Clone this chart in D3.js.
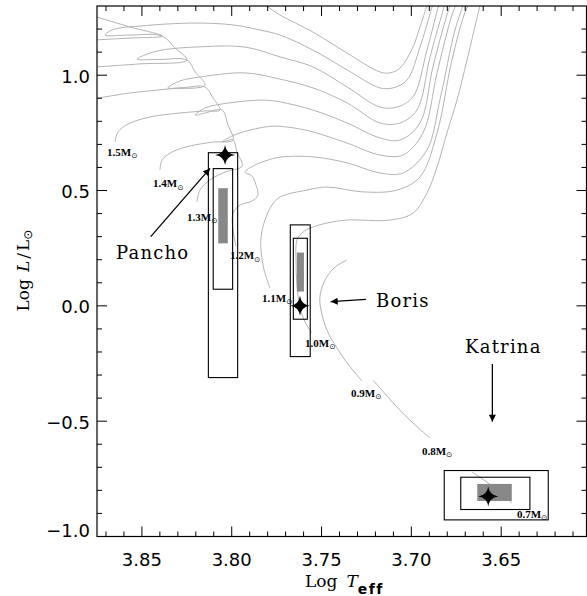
<!DOCTYPE html>
<html>
<head>
<meta charset="utf-8">
<script src="https://cdn.jsdelivr.net/npm/d3@7/dist/d3.min.js"></script>
<style>
  body { margin: 0; background: #fff; }
  svg { display: block; }
</style>
</head>
<body>
<svg id="hr" width="587" height="596"></svg>
<script>
// evolutionary tracks as [log Teff, log L/Lsun]
const track18 = [[3.8817,1.148],[3.8750,1.153],[3.8566,1.161],[3.8388,1.170],[3.8566,1.209],[3.8750,1.252],[3.8845,1.274],[3.8789,1.378],[3.8399,1.391],[3.7954,1.361],[3.7815,1.304],[3.7731,1.261],[3.7548,1.187],[3.7358,1.096],[3.7175,1.014],[3.7119,1.010],[3.7063,1.031],[3.6991,1.122],[3.6952,1.209],[3.6907,1.317]];
const track17 = [[3.8817,1.031],[3.8750,1.036],[3.8511,1.049],[3.8249,1.066],[3.8316,1.118],[3.8388,1.170],[3.8566,1.174],[3.8705,1.174],[3.8678,1.192],[3.8622,1.205],[3.8511,1.213],[3.8360,1.222],[3.8177,1.226],[3.7993,1.218],[3.7843,1.196],[3.7731,1.174],[3.7548,1.109],[3.7358,1.023],[3.7175,0.945],[3.7102,0.945],[3.7024,0.979],[3.6952,1.122],[3.6874,1.326]];
const track16 = [[3.8817,0.897],[3.8750,0.901],[3.8566,0.923],[3.8355,0.940],[3.8149,0.957],[3.8204,1.014],[3.8249,1.066],[3.8399,1.068],[3.8527,1.070],[3.8483,1.088],[3.8388,1.109],[3.8204,1.122],[3.7926,1.122],[3.7731,1.079],[3.7548,1.036],[3.7358,0.949],[3.7175,0.862],[3.7080,0.862],[3.6991,0.906],[3.6913,1.109],[3.6841,1.326]];
const track15 = [[3.8650,0.710],[3.8633,0.754],[3.8577,0.788],[3.8455,0.819],[3.8288,0.836],[3.8149,0.845],[3.8065,0.849],[3.8104,0.901],[3.8149,0.949],[3.8260,0.947],[3.8355,0.945],[3.8288,0.975],[3.8177,0.992],[3.7926,1.010],[3.7731,0.983],[3.7548,0.945],[3.7358,0.880],[3.7175,0.793],[3.7063,0.793],[3.6969,0.849],[3.6896,1.079],[3.6807,1.326]];
const track14 = [[3.8399,0.589],[3.8388,0.632],[3.8332,0.667],[3.8232,0.693],[3.8104,0.710],[3.7993,0.719],[3.8021,0.784],[3.8054,0.849],[3.8149,0.836],[3.8204,0.827],[3.8149,0.858],[3.8021,0.879],[3.7831,0.892],[3.7731,0.884],[3.7548,0.849],[3.7358,0.793],[3.7175,0.728],[3.7063,0.719],[3.6952,0.793],[3.6880,1.036],[3.6802,1.261],[3.6774,1.326]];
const track13 = [[3.8193,0.450],[3.8177,0.502],[3.8121,0.546],[3.8037,0.580],[3.7943,0.606],[3.7971,0.667],[3.7993,0.719],[3.8054,0.710],[3.7999,0.736],[3.7898,0.762],[3.7770,0.779],[3.7653,0.771],[3.7548,0.754],[3.7358,0.706],[3.7175,0.654],[3.7047,0.654],[3.6935,0.750],[3.6857,1.010],[3.6774,1.261],[3.6740,1.326]];
const track12 = [[3.7976,0.259],[3.7993,0.329],[3.7993,0.402],[3.7954,0.437],[3.7887,0.454],[3.7854,0.480],[3.7865,0.524],[3.7887,0.563],[3.7926,0.580],[3.7870,0.611],[3.7798,0.632],[3.7731,0.645],[3.7548,0.646],[3.7358,0.620],[3.7175,0.576],[3.7047,0.576],[3.6913,0.676],[3.6841,0.893],[3.6757,1.196],[3.6701,1.326]];
const track11 = [[3.7787,0.077],[3.7820,0.155],[3.7837,0.242],[3.7837,0.298],[3.7815,0.372],[3.7776,0.437],[3.7731,0.472],[3.7581,0.502],[3.7470,0.515],[3.7269,0.494],[3.7080,0.502],[3.6952,0.559],[3.6857,0.749],[3.6774,1.066],[3.6696,1.283],[3.6662,1.326]];
const track10 = [[3.7553,-0.118],[3.7592,-0.070],[3.7620,-0.005],[3.7637,0.090],[3.7642,0.199],[3.7637,0.285],[3.7603,0.320],[3.7564,0.337],[3.7470,0.359],[3.7358,0.372],[3.7119,0.372],[3.6991,0.402],[3.6913,0.489],[3.6857,0.602],[3.6802,0.749],[3.6746,0.892],[3.6690,1.066],[3.6618,1.300],[3.6607,1.326]];
const track09 = [[3.7275,-0.326],[3.7353,-0.252],[3.7414,-0.183],[3.7470,-0.105],[3.7503,-0.018],[3.7509,0.038],[3.7486,0.103],[3.7431,0.164],[3.7358,0.199]];
const track08 = [[3.7214,-0.322],[3.7175,-0.356],[3.7080,-0.439],[3.6991,-0.508],[3.6896,-0.573]];
const track07 = [[3.6662,-0.721],[3.6573,-0.768],[3.6440,-0.855]];
const tracks = [track18, track17, track16, track15, track14, track13, track12, track11, track10, track09, track08, track07];

// mass labels (left edge, baseline)
const massNames = ["1.5", "1.4", "1.3", "1.2", "1.1", "1.0", "0.9", "0.8", "0.7"];
const massLabelT = [3.8694, 3.8438, 3.8249, 3.8010, 3.7831, 3.7592, 3.7336, 3.6941, 3.6412];
const massLabelL = [0.650, 0.515, 0.368, 0.203, 0.017, -0.178, -0.395, -0.646, -0.919];

// the three stars
const starNames = ["Pancho", "Boris", "Katrina"];
const starT = [3.8037, 3.7620, 3.6572];
const starL = [0.654, 0.000, -0.827];
const outerT = [[3.8130, 3.7967], [3.7674, 3.7563], [3.6817, 3.6238]];
const outerL = [[-0.311, 0.664], [-0.220, 0.351], [-0.928, -0.714]];
const innerT = [[3.8103, 3.7995], [3.7657, 3.7579], [3.6725, 3.6340]];
const innerL = [[0.072, 0.595], [-0.058, 0.293], [-0.883, -0.743]];
const coreT = [[3.8075, 3.8022], [3.7637, 3.7598], [3.6633, 3.6441]];
const coreL = [[0.271, 0.510], [0.062, 0.231], [-0.846, -0.772]];
const arrowFrom = [[3.8451, 0.300], [3.7253, 0.028], [3.6549, -0.252]];
const arrowTo = [[3.8121, 0.596], [3.7449, 0.018], [3.6549, -0.502]];
const nameT = [3.8644, 3.7197, 3.6701];
const nameL = [0.203, -0.005, -0.204];

const xTicks = [3.85, 3.80, 3.75, 3.70, 3.65];
const yTicks = [-1.0, -0.5, 0.0, 0.5, 1.0];

const pL = 97, pR = 586.5, pT = 6, pB = 536.5;
const x = d3.scaleLinear().domain([3.875, 3.6025]).range([pL, pR]);
const y = d3.scaleLinear().domain([-1.0, 1.3]).range([pB, pT]);

const svg = d3.select('#hr');
const serif = '"DejaVu Serif", "Liberation Serif", serif';
const sans = '"DejaVu Sans", sans-serif';

const defs = svg.append('defs');
defs.append('clipPath').attr('id', 'plotclip')
  .append('rect').attr('x', pL).attr('y', pT)
  .attr('width', pR - pL).attr('height', pB - pT);

defs.append('marker')
  .attr('id', 'head')
  .attr('viewBox', '0 0 10 10')
  .attr('refX', 10).attr('refY', 5)
  .attr('markerUnits', 'userSpaceOnUse')
  .attr('markerWidth', 8).attr('markerHeight', 7)
  .attr('orient', 'auto')
  .append('path').attr('d', 'M0,0L10,5L0,10Z').attr('fill', '#000');

const plot = svg.append('g').attr('clip-path', 'url(#plotclip)');

const line = d3.line()
  .x(d => x(d[0])).y(d => y(d[1]))
  .curve(d3.curveCatmullRom.alpha(0.5));

plot.selectAll('path.track')
  .data(tracks)
  .join('path')
    .attr('class', 'track')
    .attr('d', line)
    .attr('fill', 'none')
    .attr('stroke', '#b3b3b3')
    .attr('stroke-width', 1);

// boxes
const boxes = starNames.map((n, i) => ({n, i}));
plot.selectAll('rect.core')
  .data(boxes).join('rect').attr('class', 'core')
    .attr('x', d => x(coreT[d.i][0])).attr('width', d => x(coreT[d.i][1]) - x(coreT[d.i][0]))
    .attr('y', d => y(coreL[d.i][1])).attr('height', d => y(coreL[d.i][0]) - y(coreL[d.i][1]))
    .attr('fill', '#888');

[[outerT, outerL], [innerT, innerL]].forEach(([bt, bl]) => {
  plot.append('g').selectAll('rect')
    .data(boxes).join('rect')
      .attr('x', d => x(bt[d.i][0])).attr('width', d => x(bt[d.i][1]) - x(bt[d.i][0]))
      .attr('y', d => y(bl[d.i][1])).attr('height', d => y(bl[d.i][0]) - y(bl[d.i][1]))
      .attr('fill', 'none').attr('stroke', '#000').attr('stroke-width', 1.1);
});

// four pointed stars
const starPath = (r, c) => `M0,${-r}Q${c},${-c} ${r},0Q${c},${c} 0,${r}Q${-c},${c} ${-r},0Q${-c},${-c} 0,${-r}Z`;
plot.selectAll('path.star')
  .data(boxes).join('path').attr('class', 'star')
    .attr('transform', d => `translate(${x(starT[d.i])},${y(starL[d.i])})`)
    .attr('d', starPath(10, 1.2))
    .attr('fill', '#000');

// arrows and names
svg.selectAll('line.arrow')
  .data(boxes).join('line').attr('class', 'arrow')
    .attr('x1', d => x(arrowFrom[d.i][0])).attr('y1', d => y(arrowFrom[d.i][1]))
    .attr('x2', d => x(arrowTo[d.i][0])).attr('y2', d => y(arrowTo[d.i][1]))
    .attr('stroke', '#000').attr('stroke-width', 1.3)
    .attr('marker-end', 'url(#head)');

svg.selectAll('text.name')
  .data(boxes).join('text').attr('class', 'name')
    .attr('x', d => x(nameT[d.i])).attr('y', d => y(nameL[d.i]))
    .attr('font-family', serif).attr('font-size', 18)
    .attr('letter-spacing', 1.2)
    .text(d => d.n);

// mass labels
const ml = svg.selectAll('text.mass')
  .data(massNames).join('text').attr('class', 'mass')
    .attr('x', (d, i) => x(massLabelT[i])).attr('y', (d, i) => y(massLabelL[i]))
    .attr('font-family', '"Liberation Serif", serif').attr('font-weight', 'bold').attr('font-size', 11);
ml.append('tspan').text(d => d + 'M');
ml.append('tspan').attr('font-size', 7.5).attr('dy', 2.5).attr('font-weight', 'normal')
  .attr('font-family', sans).text('\u2299');

// frame and ticks
svg.append('rect')
  .attr('x', pL).attr('y', pT).attr('width', pR - pL).attr('height', pB - pT)
  .attr('fill', 'none').attr('stroke', '#000').attr('stroke-width', 1.2);

const xMinor = d3.range(3.61, 3.875, 0.01).map(v => +v.toFixed(2));
const yMinor = d3.range(-0.9, 1.3, 0.1).map(v => +v.toFixed(1));
const isMajorX = v => xTicks.some(t => Math.abs(t - v) < 1e-6);
const isMajorY = v => yTicks.some(t => Math.abs(t - v) < 1e-6);

const tickG = svg.append('g').attr('stroke', '#000').attr('stroke-width', 1);
xMinor.forEach(v => {
  const len = isMajorX(v) ? 10 : 5;
  tickG.append('line').attr('x1', x(v)).attr('x2', x(v)).attr('y1', pB).attr('y2', pB - len);
  tickG.append('line').attr('x1', x(v)).attr('x2', x(v)).attr('y1', pT).attr('y2', pT + len);
});
yMinor.forEach(v => {
  const len = isMajorY(v) ? 10 : 5;
  tickG.append('line').attr('y1', y(v)).attr('y2', y(v)).attr('x1', pL).attr('x2', pL + len);
  tickG.append('line').attr('y1', y(v)).attr('y2', y(v)).attr('x1', pR).attr('x2', pR - len);
});

svg.selectAll('text.xt')
  .data(xTicks).join('text').attr('class', 'xt')
    .attr('x', d => x(d)).attr('y', 566)
    .attr('text-anchor', 'middle')
    .attr('font-family', sans).attr('font-size', 18)
    .text(d => d.toFixed(2));

svg.selectAll('text.yt')
  .data(yTicks).join('text').attr('class', 'yt')
    .attr('x', 90).attr('y', d => y(d) + (d === -1.0 ? 0 : 7.5))
    .attr('text-anchor', 'end')
    .attr('font-family', sans).attr('font-size', 18)
    .text(d => d.toFixed(1).replace('-', '\u2212'));

// axis titles
const xt = svg.append('text')
  .attr('x', 305).attr('y', 586.5)
  .attr('font-family', serif).attr('font-size', 17);
xt.append('tspan').text('Log');
xt.append('tspan').attr('dx', 9).attr('font-style', 'italic').text('T');
xt.append('tspan').attr('dy', 7).attr('font-family', sans).attr('font-weight', 'bold')
  .attr('font-size', 14).attr('letter-spacing', 1.5).text('eff');

const yt = svg.append('text')
  .attr('transform', 'translate(28.5,311.5) rotate(-90)')
  .attr('font-family', serif).attr('font-size', 17);
yt.append('tspan').text('Log');
yt.append('tspan').attr('dx', 7).attr('font-style', 'italic').text('L');
yt.append('tspan').attr('dx', 2).text('/');
yt.append('tspan').attr('dx', 2).text('L');
yt.append('tspan').attr('dy', 3).attr('font-family', sans).attr('font-size', 12).text('\u2299');
</script>
</body>
</html>
